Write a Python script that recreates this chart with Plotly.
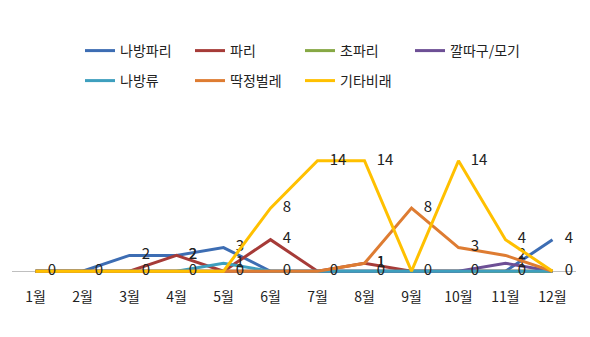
import plotly.graph_objects as go

months = ["1월", "2월", "3월", "4월", "5월", "6월", "7월", "8월", "9월", "10월", "11월", "12월"]
names = ["나방파리", "파리", "초파리", "깔따구/모기", "나방류", "딱정벌레", "기타비래"]
s_nabangpari = [0, 0, 2, 2, 3, 0, 0, 0, 0, 0, 0, 4]
s_pari = [0, 0, 0, 2, 0, 4, 0, 1, 0, 0, 0, 0]
s_chopari = [0, 0, 0, 0, 0, 0, 0, 0, 0, 0, 0, 0]
s_kkalttagu = [0, 0, 0, 0, 0, 0, 0, 0, 0, 0, 1, 0]
s_nabangryu = [0, 0, 0, 0, 1, 0, 0, 0, 0, 0, 0, 0]
s_ttakjeong = [0, 0, 0, 0, 0, 0, 0, 1, 8, 3, 2, 0]
s_gita = [0, 0, 0, 0, 0, 8, 14, 14, 0, 14, 4, 0]
series = [s_nabangpari, s_pari, s_chopari, s_kkalttagu, s_nabangryu, s_ttakjeong, s_gita]
colors = ["#3D6DB3", "#A63B38", "#86A844", "#6D4F95", "#3E9FBE", "#DE7C32", "#FFC000"]

# Overlapping "0" labels: keep only the one drawn by the topmost series at each month
last_zero = {}
for i, s in enumerate(series):
    for j, v in enumerate(s):
        if v == 0:
            last_zero[j] = i

FONT = "Noto Sans CJK KR"
fig = go.Figure()
for i, (n, s, c) in enumerate(zip(names, series, colors)):
    labels = [str(v) if (v != 0 or last_zero.get(j) == i) else "" for j, v in enumerate(s)]
    fig.add_trace(go.Scatter(
        x=months, y=s, name=n, mode="lines+markers+text",
        line=dict(color=c, width=3),
        marker=dict(size=18, color="rgba(0,0,0,0)"),
        text=labels, textposition="middle right",
        textfont=dict(family=FONT, size=15, color="#222"),
        cliponaxis=False,
        legend="legend" if i < 4 else "legend2",
    ))

leg_common = dict(orientation="h", font=dict(family=FONT, size=14, color="#222"),
                  entrywidth=65, entrywidthmode="pixels",
                  xref="container", yref="container", xanchor="left", yanchor="middle",
                  bgcolor="rgba(0,0,0,0)", borderwidth=0, tracegroupgap=0)
fig.update_layout(
    width=590, height=337,
    margin=dict(l=12, r=14, t=145, b=50),
    paper_bgcolor="white", plot_bgcolor="white",
    showlegend=True,
    legend=dict(x=80 / 590, y=1 - 51 / 337, **leg_common),
    legend2=dict(x=80 / 590, y=1 - 81 / 337, **leg_common),
    xaxis=dict(type="category", range=[-0.5, 11.5], showgrid=False, showline=False,
               ticks="", tickfont=dict(family=FONT, size=14, color="#222")),
    yaxis=dict(range=[-2, 16], showgrid=False, showticklabels=False, zeroline=True,
               zerolinecolor="#BFBFBF", zerolinewidth=1, showline=False),
)
fig.write_html("out.html")
